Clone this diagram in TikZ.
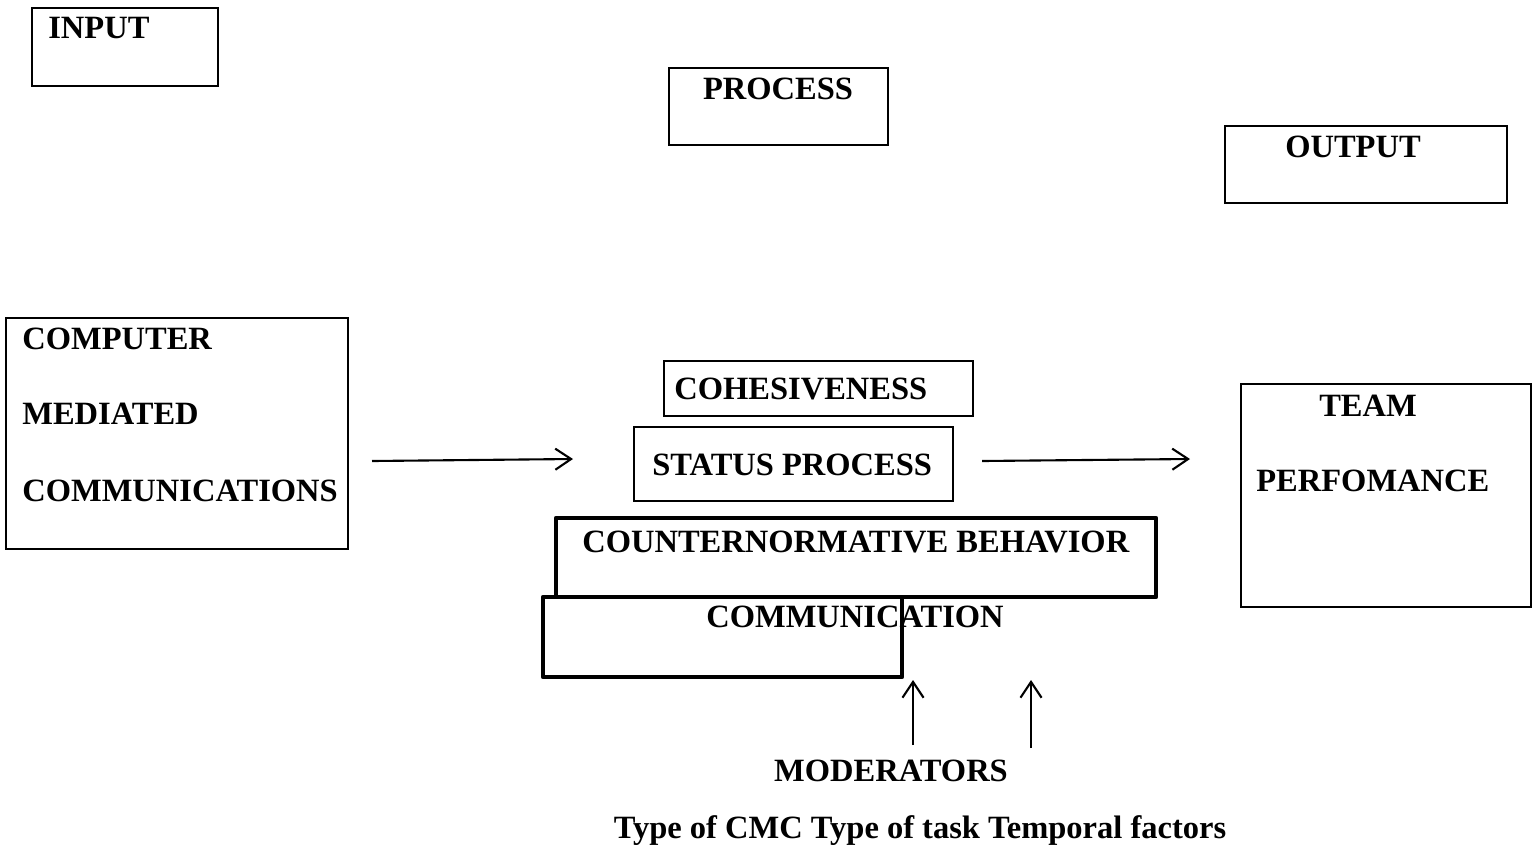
\documentclass[tikz,border=0pt]{standalone}
\usepackage{fontspec}
\setmainfont{Liberation Serif}
\usetikzlibrary{arrows.meta}

\begin{document}
\begin{tikzpicture}[x=0.02cm,y=-0.02cm,>={Straight Barb[length=9pt,width=12pt]},
  lbl/.style={inner sep=0pt,font=\fontsize{18.5}{22}\selectfont\bfseries},
  thinbox/.style={line width=0.9pt},
  thickbox/.style={line width=2.4pt,line join=round},
  flow/.style={->,line width=1.2pt}]
  \useasboundingbox (0,0) rectangle (1534,846);
  % heading boxes
  \draw[thinbox] (32,8) rectangle (218,86);
  \node[lbl,anchor=base west] (input) at (48,38) {INPUT};
  \draw[thinbox] (669,68) rectangle (888,145);
  \node[lbl,anchor=base] (process) at (778,99) {PROCESS};
  \draw[thinbox] (1225,126) rectangle (1507,203);
  \node[lbl,anchor=base] (output) at (1353,157) {OUTPUT};
  % input side
  \draw[thinbox] (6,318) rectangle (348,549);
  \node[lbl,anchor=base west] (cmc1) at (22,349) {COMPUTER};
  \node[lbl,anchor=base west] (cmc2) at (22,424) {MEDIATED};
  \node[lbl,anchor=base west] (cmc3) at (22,501) {COMMUNICATIONS};
  % process stack
  \draw[thinbox] (664,361) rectangle (973,416);
  \node[lbl,anchor=base west] (cohes) at (674,399) {COHESIVENESS};
  \draw[thinbox] (634,427) rectangle (953,501);
  \node[lbl,anchor=base west] (status) at (652,475) {STATUS PROCESS};
  \draw[thickbox] (556,518) rectangle (1156,597);
  \node[lbl,anchor=base west] (counter) at (582,552) {COUNTERNORMATIVE BEHAVIOR};
  \draw[thickbox] (543,597) rectangle (902,677);
  \node[lbl,anchor=base west] (comm) at (706,627) {COMMUNICATION};
  % output side
  \draw[thinbox] (1241,384) rectangle (1531,607);
  \node[lbl,anchor=base] (team) at (1368,416) {TEAM};
  \node[lbl,anchor=base west] (perf) at (1256,491) {PERFOMANCE};
  % moderators
  \node[lbl,anchor=base] (moder) at (891,781) {MODERATORS};
  \node[lbl,anchor=base] (types) at (920,838) {Type of CMC Type of task Temporal factors};
  % arrows
  \coordinate (inR) at (372,461);
  \coordinate (procL) at (573,459);
  \coordinate (procR) at (982,461);
  \coordinate (outL) at (1190,459);
  \coordinate (modA) at (913,745);
  \coordinate (modAtop) at (913,680);
  \coordinate (modB) at (1031,748);
  \coordinate (modBtop) at (1031,680);
  \draw[flow] (inR) -- (procL);
  \draw[flow] (procR) -- (outL);
  \draw[flow] (modA) -- (modAtop);
  \draw[flow] (modB) -- (modBtop);
\end{tikzpicture}
\end{document}
